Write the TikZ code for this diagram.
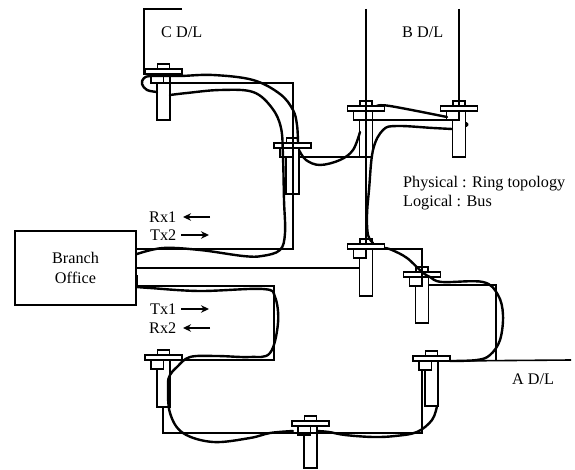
\documentclass[tikz,border=0pt]{standalone}
\usepackage{fontspec}
\setmainfont{Liberation Serif}
\usetikzlibrary{arrows.meta}
\tikzset{
  wire/.style={line width=1.3pt,line join=miter},
  heavy/.style={line width=1.6pt},
  tapline/.style={line width=1.6pt},
  cable/.style={line width=2.4pt,line cap=round,line join=round},
  lbl/.style={font=\fontsize{16.2}{18}\selectfont,inner sep=0pt},
  dirarrow/.style={line width=1.5pt,-{Stealth[length=8pt,width=7.5pt]}},
  officebox/.style={draw,line width=1.1pt,minimum width=121pt,minimum height=74pt,inner sep=0pt,align=center,font=\fontsize{16.2}{20}\selectfont}
}
\newcommand{\tapunit}[4]{%
  \coordinate (#1) at (#2,#3);
  \coordinate (#1r) at (#2+18.5,#3+5);
  \draw[tapline] (#1) ++(-18.5,0) rectangle ++(37,5);
  \draw[tapline] (#1) ++(-6,-5) rectangle ++(12,5);
  \draw[tapline] (#1) ++(-12.5,5) rectangle ++(12.5,9);
  \draw[tapline] (#1) ++(-6.5,14) -- ++(0,#4) -- ++(13,0) -- ++(0,-#4-9);
}
\begin{document}
\begin{tikzpicture}[x=1pt,y=-1pt]
\useasboundingbox (0,0) rectangle (575,470);
\fill[white] (0,0) rectangle (575,470);
% office
\node[officebox] (office) at (75.5,268) {Branch\\Office};
% taps
\tapunit{tc}{163.5}{69}{37}
\tapunit{tm}{292.5}{143}{37}
\tapunit{tbl}{366}{106}{37}
\tapunit{tbr}{459}{106}{37}
\tapunit{tce}{366}{244}{38}
\tapunit{tr}{422}{272}{37}
\tapunit{ta}{431.5}{356}{36}
\tapunit{tbo}{310.5}{421}{33}
\tapunit{tl}{163.5}{355}{38}
% free ends
\coordinate (cend) at (182,9);
\coordinate (ccorner) at (144,9);
\coordinate (blend) at (366,9);
\coordinate (brend) at (459,9);
\coordinate (aend) at (571,360);
% thin wires
\draw[wire] (cend) -- (ccorner) -- (144,75);
\draw[wire] (163,83) -- (293,83) -- (293,249) -- (136,249);
\draw[wire] (299,157) -- (360,157);
\draw[wire] (blend) -- (tce);
\draw[wire] (brend) -- (tbr);
\draw[wire] (353,120) -- (452,120);
\draw[wire] (office.east |- 0,268) -- (360,268);
\draw[wire] (tcer) -- (422,249) -- (422,286);
\draw[wire] (429,285) -- (496,285) -- (496,360);
\draw[heavy] (tar) -- (aend);
\draw[wire] (422,369) -- (422,433) -- (163,433) -- (163,407);
\draw[wire] (tlr) -- (274,360) -- (274,286) -- (136,286);
% cables
\draw[cable] plot[smooth,tension=.6] coordinates {(157,92) (147,90) (142,84) (144,78) (152,76) (180,76) (213,75) (253,80) (280,94) (293,110) (297,125) (298,143)};
\draw[cable] plot[smooth,tension=.6] coordinates {(170,95) (187,93) (220,90) (253,92) (272,108) (281,128) (283,157) (284,200) (285,233) (280,250) (262,256) (243,256) (200,250) (163,248) (137,254)};
\draw[cable] plot[smooth,tension=.6] coordinates {(299,150) (306,160) (320,165) (340,160) (353,150) (360,132)};
\draw[cable] plot[smooth,tension=.6] coordinates {(377,106) (390,106) (447,117)};
\draw[cable] (466,123) arc[start angle=-90,end angle=90,radius=1.5] ;
\draw[cable] plot[smooth,tension=.6] coordinates {(452,129) (433,128) (397,126) (383,130) (373,150) (369,190) (367,215) (368,235) (373,243)};
\draw[cable] plot[smooth,tension=.6] coordinates {(385,248) (392,250) (407,258) (422,272) (430,277) (442,282) (483,282) (498,295) (503,315) (500,340) (490,355) (477,360) (450,361)};
\draw[cable] plot[smooth,tension=.6] coordinates {(437,406) (432,420) (417,432) (395,436) (373,437) (345,435) (329,432) (317,431)};
\draw[cable] plot[smooth,tension=.6] coordinates {(293,431) (270,433) (250,438) (213,442) (183,433) (170,413) (168,385) (170,375) (177,367) (190,357) (217,356) (250,357) (270,353) (278,323) (275,297) (263,289) (200,291) (150,288) (137,287)};
\draw[line width=2.2pt] (136.5,275) -- (136.5,288);
% labels
\node[lbl,anchor=west] (lc) at (161,32) {C D/L};
\node[lbl,anchor=west] (lb) at (402,32) {B D/L};
\node[lbl,anchor=west] (la) at (512,379) {A D/L};
\node[lbl,anchor=west] (lp) at (403,184) {Physical : Ring topology};
\node[lbl,anchor=west] (ll) at (403,203) {Logical : Bus};
\node[lbl,anchor=west] (rx1) at (149,217) {Rx1};
\node[lbl,anchor=west] (tx2) at (150,235) {Tx2};
\node[lbl,anchor=west] (tx1) at (150,309) {Tx1};
\node[lbl,anchor=west] (rx2) at (149,328) {Rx2};
\coordinate (rx1e) at (210,217);
\coordinate (tx2e) at (209,235);
\coordinate (tx1e) at (209,309);
\coordinate (rx2e) at (210,328);
\draw[dirarrow] (rx1e) -- (183,217);
\draw[dirarrow] (181,235) -- (tx2e);
\draw[dirarrow] (181,309) -- (tx1e);
\draw[dirarrow] (rx2e) -- (183,328);
\end{tikzpicture}
\end{document}
